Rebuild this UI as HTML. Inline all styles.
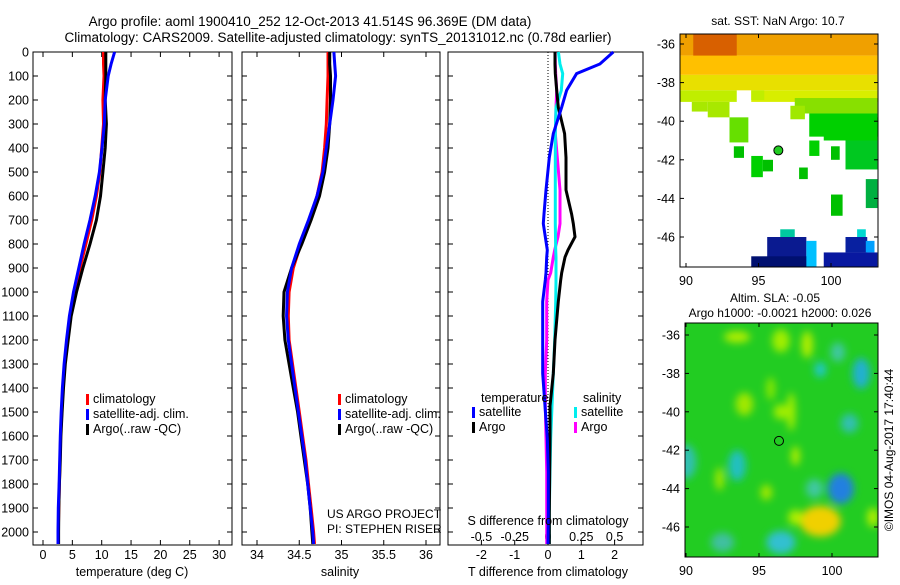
<!DOCTYPE html>
<html><head><meta charset="utf-8"><style>
body{margin:0;background:#fff;width:900px;height:580px;overflow:hidden}
svg{font-family:"Liberation Sans",sans-serif;font-size:12.5px}
</style></head><body>
<svg id="c" width="900" height="580" xmlns="http://www.w3.org/2000/svg">
<defs>
<clipPath id="m1c"><rect x="680" y="34" width="198" height="233"/></clipPath>
<clipPath id="m2c"><rect x="685" y="323" width="193" height="234"/></clipPath>
<filter id="bl" x="-50%" y="-50%" width="200%" height="200%"><feGaussianBlur stdDeviation="4"/></filter>
</defs>
<text x="310" y="26" text-anchor="middle" font-size="13.5">Argo profile: aoml 1900410_252 12-Oct-2013 41.514S 96.369E (DM data)</text>
<text x="338" y="42" text-anchor="middle" font-size="13.5">Climatology: CARS2009. Satellite-adjusted climatology: synTS_20131012.nc (0.78d earlier)</text>
<g id="g"></g>
<text x="778" y="25" text-anchor="middle" font-size="12">sat. SST: NaN Argo: 10.7</text>
<text x="775" y="302" text-anchor="middle" font-size="12">Altim. SLA: -0.05</text>
<text x="780" y="317" text-anchor="middle" font-size="12">Argo h1000: -0.0021 h2000: 0.026</text>
<text transform="translate(893,450) rotate(-90)" text-anchor="middle" font-size="12">©IMOS 04-Aug-2017 17:40:44</text>
<text x="327" y="518" font-size="12">US ARGO PROJECT</text>
<text x="327" y="533" font-size="12">PI: STEPHEN RISER</text>
</svg>
<script>
// ---- data ----
const depthTicks=[0,100,200,300,400,500,600,700,800,900,1000,1100,1200,1300,1400,1500,1600,1700,1800,1900,2000];
const tempTicks=[0,5,10,15,20,25,30];
const salTicks=[34,34.5,35,35.5,36];
const tdTicks=[-2,-1,0,1,2];
const sdTicks=[-0.5,-0.25,0,0.25,0.5];
const pDepth=[0,50,100,200,300,400,500,600,700,800,900,1000,1100,1200,1300,1400,1500,1600,1700,1800,1900,2000,2050];
const tClim=[10.3,10.3,10.4,10.2,10.3,10.0,9.7,9.1,8.3,7.3,6.3,5.3,4.6,4.1,3.7,3.4,3.2,3.0,2.9,2.8,2.7,2.6,2.6];
const tSat=[12.2,11.6,11.1,10.6,10.45,10.05,9.6,8.9,8.0,7.0,6.1,5.2,4.5,4.0,3.6,3.3,3.1,2.95,2.85,2.75,2.6,2.55,2.55];
const tArgo=[10.7,10.7,10.7,10.6,10.8,10.6,10.2,9.8,9.1,8.0,6.8,5.7,4.8,4.3,3.8,3.5,3.25,3.05,2.95,2.8,2.7,2.65,2.65];
const sClim=[34.84,34.84,34.84,34.83,34.82,34.8,34.77,34.71,34.62,34.52,34.43,34.38,34.37,34.38,34.42,34.46,34.5,34.54,34.58,34.61,34.64,34.67,34.68];
const sSat=[34.91,34.92,34.93,34.9,34.86,34.82,34.78,34.71,34.61,34.5,34.41,34.36,34.35,34.37,34.41,34.45,34.49,34.53,34.57,34.6,34.63,34.66,34.67];
const sArgo=[34.86,34.86,34.87,34.87,34.86,34.84,34.8,34.74,34.64,34.53,34.41,34.32,34.31,34.33,34.38,34.43,34.48,34.52,34.56,34.6,34.63,34.65,34.66];
const dDepth=[0,50,90,160,230,340,440,575,675,715,770,825,855,920,950,1040,1200,1340,1475,1610,1750,1920,2050];
const dTSat=[1.96,1.56,0.86,0.56,0.41,0.16,0.04,-0.06,-0.12,-0.14,-0.08,-0.02,-0.04,-0.06,-0.08,-0.16,-0.16,-0.16,-0.09,-0.02,0.01,0.01,0.0];
const dTArgo=[0.21,0.21,0.22,0.26,0.31,0.5,0.54,0.54,0.71,0.76,0.81,0.6,0.51,0.41,0.38,0.31,0.21,0.16,0.06,0.06,0.05,0.04,0.04];
const dSSat=[0.078,0.09,0.11,0.1,0.06,0.055,0.055,0.055,0.055,0.055,0.056,0.058,0.06,0.06,0.06,0.058,0.05,0.04,0.03,0.02,0.015,0.01,0.01];
const dSArgo=[0.053,0.055,0.058,0.065,0.06,0.055,0.07,0.09,0.09,0.09,0.075,0.05,0.04,0.02,0.0,-0.01,-0.01,-0.02,-0.02,-0.015,-0.01,-0.01,-0.01];
const argoLon=96.369, argoLat=-41.514;
// ---- helpers ----
const NS='http://www.w3.org/2000/svg';const G=document.getElementById('g');
function mk(t,a,p){const e=document.createElementNS(NS,t);for(const k in a)e.setAttribute(k,a[k]);(p||G).appendChild(e);return e;}
const yD=d=>52+0.24*d;
const P=[{x0:33,x1:232},{x0:242,x1:440},{x0:448,x1:643}];
const xT=v=>43+v*5.87, xS=v=>257+(v-34)*84.5, xTD=v=>548+v*33.3, xSD=v=>548+v*4*33.3;
function frame(p,name){const r=mk('rect',{x:p.x0,y:52,width:p.x1-p.x0,height:493,fill:'none',stroke:'#000','stroke-width':1});

depthTicks.forEach(d=>{mk('line',{x1:p.x0,x2:p.x0+5,y1:yD(d),y2:yD(d),stroke:'#000'});mk('line',{x1:p.x1,x2:p.x1-5,y1:yD(d),y2:yD(d),stroke:'#000'});});}
function xticks(p,ticks,f,y,top){ticks.forEach(v=>{const x=f(v);mk('line',{x1:x,x2:x,y1:545,y2:540,stroke:'#000'});if(top)mk('line',{x1:x,x2:x,y1:52,y2:57,stroke:'#000'});
const t=mk('text',{x:x,y:y,'text-anchor':'middle'});t.textContent=String(v);});}
function line(xs,ds,f,col,name,w){const pts=xs.map((v,i)=>f(v).toFixed(1)+','+yD(ds[i]).toFixed(1)).join(' ');
const e=mk('polyline',{points:pts,fill:'none',stroke:col,'stroke-width':w||3});}
// panel 1
frame(P[0],'temperature-panel');
depthTicks.forEach(d=>{const t=mk('text',{x:29,y:yD(d)+4.5,'text-anchor':'end'});t.textContent=d;});
xticks(P[0],tempTicks,xT,559,true);
line(tClim,pDepth,xT,'#f00','temp-climatology-line');line(tArgo,pDepth,xT,'#000','temp-argo-line');line(tSat,pDepth,xT,'#00f','temp-satellite-line');
let t=mk('text',{x:132,y:576,'text-anchor':'middle'});t.textContent='temperature (deg C)';
// panel 2
frame(P[1],'salinity-panel');
xticks(P[1],salTicks,xS,559,true);
line(sClim,pDepth,xS,'#f00','sal-climatology-line');line(sArgo,pDepth,xS,'#000','sal-argo-line');line(sSat,pDepth,xS,'#00f','sal-satellite-line');
t=mk('text',{x:340,y:576,'text-anchor':'middle'});t.textContent='salinity';
// panel 3
frame(P[2],'difference-panel');
mk('line',{x1:548,x2:548,y1:52,y2:545,stroke:'#000','stroke-dasharray':'1,2'});
xticks(P[2],tdTicks,xTD,559,false);
sdTicks.forEach(v=>{const x=xSD(v);const tt=mk('text',{x:x,y:541,'text-anchor':'middle'});tt.textContent=String(v);
});
line(dSArgo,dDepth,xSD,'#f0f','s-diff-argo-line');line(dSSat,dDepth,xSD,'#0ee','s-diff-satellite-line');
line(dTArgo,dDepth,xTD,'#000','t-diff-argo-line');line(dTSat,dDepth,xTD,'#00f','t-diff-satellite-line');
t=mk('text',{x:548,y:525,'text-anchor':'middle'});t.textContent='S difference from climatology';
t=mk('text',{x:548,y:576,'text-anchor':'middle'});t.textContent='T difference from climatology';
// legends
function leg(x,y,col,label){mk('rect',{x:x,y:y-9,width:3,height:11,fill:col});const tt=mk('text',{x:x+7,y:y});tt.textContent=label;}
leg(86,403,'#f00','climatology');leg(86,418,'#00f','satellite-adj. clim.');leg(86,433,'#000','Argo(..raw -QC)');
leg(338,403,'#f00','climatology');leg(338,418,'#00f','satellite-adj. clim.');leg(338,433,'#000','Argo(..raw -QC)');
t=mk('text',{x:481,y:402});t.textContent='temperature';
t=mk('text',{x:583,y:402});t.textContent='salinity';
leg(472,416,'#00f','satellite');leg(472,431,'#000','Argo');leg(574,416,'#0ee','satellite');leg(574,431,'#f0f','Argo');
// ---- maps ----
const lonTicks=[90,95,100], latTicks=[-36,-38,-40,-42,-44,-46];
const m1={x0:680,x1:878,y0:34,y1:267,lx:lo=>686+(lo-90)*14.5,ly:la=>44+(-36-la)*19.3};
const m2={x0:685,x1:878,y0:323,y1:557,lx:lo=>686+(lo-90)*14.6,ly:la=>335+(-36-la)*19.2};
// SST cells [lon0,lat0,lon1,lat1,color]
const sstCells=[[89.6,-35.5,103.2,-36.6,'#f0a000'],[90.5,-35.5,93.5,-36.8,'#d86000'],[89.6,-36.6,103.2,-37.6,'#ffc000'],[89.6,-37.6,103.2,-38.4,'#e8e000'],
[89.6,-38.4,93.5,-39,'#c0ee00'],[94.5,-38.4,103.2,-39,'#d8ee00'],[90.4,-39,91.5,-39.5,'#a8e800'],[91.5,-39,93,-39.8,'#a8e800'],[97.5,-38.8,103.2,-39.6,'#88e000'],
[98.5,-39.6,103.2,-40.8,'#00d000'],[99.5,-39.8,103.2,-41,'#00d000'],[93,-39.8,94.3,-41.1,'#66e000'],[101,-41,103.2,-42.5,'#00c820'],[98.5,-41,99.2,-41.8,'#00d000'],
[100,-41.3,100.6,-42,'#00c000'],[97.2,-39.2,98.2,-39.9,'#a0e800'],[94.5,-38.4,95.4,-38.9,'#c0ee00'],
[93.3,-41.3,94,-41.9,'#00c000'],[94.5,-41.8,95.3,-42.9,'#00d000'],[95.3,-42,96,-42.6,'#00c000'],[97.8,-42.4,98.4,-43,'#00c000'],
[102.4,-43,103.2,-44.5,'#00b040'],[100,-43.8,100.8,-44.9,'#00c000'],[96.5,-45.6,97.5,-46,'#00c8a0'],[101.8,-45.6,102.4,-46.2,'#00d8d0'],
[95.6,-46,98.3,-47.6,'#0a1a90'],[94.5,-47,98.5,-47.6,'#001070'],[98.3,-46.2,99,-47.6,'#00c0ff'],[99.5,-46.8,103.2,-47.6,'#0818a0'],[101,-46,102.5,-46.8,'#0820a0'],[102.4,-46.2,103,-46.8,'#00a0ff']];
sstCells.forEach(c=>{const a=m1.lx(c[0]),b=m1.lx(c[2]),y0=m1.ly(c[1]),y1=m1.ly(c[3]);
const r=mk('rect',{x:Math.min(a,b),y:Math.min(y0,y1),width:Math.abs(b-a),height:Math.abs(y1-y0),fill:c[4],'clip-path':'url(#m1c)'});
});
// SLA blobs [lon,lat,rlon,rlat,color]
const slaBlobs=[[93.5,-36.1,0.9,0.3,'#b0ee00'],[96.5,-36.3,0.6,0.6,'#a0ee00'],[98.3,-36.5,0.4,0.7,'#b0ee00'],[95.8,-38.8,0.3,0.6,'#88e800'],
[94,-39.6,0.6,0.6,'#a0e800'],[96.5,-40,0.5,0.4,'#a0ee00'],[97.2,-40,0.3,1.0,'#a0ee00'],[99.2,-37.8,0.4,0.4,'#22c8c8'],[102,-38,0.6,0.8,'#20b0d0'],
[101.2,-40.6,0.6,0.5,'#30c0b0'],[90,-42.6,0.7,0.9,'#30c0b0'],[93.5,-42.8,0.6,0.8,'#20c0c0'],[97.5,-42.3,0.3,0.5,'#b0ee00'],[98.8,-44,0.6,0.5,'#40c8a0'],
[100.6,-44,0.9,0.8,'#2080e0'],[99.2,-45.7,1.4,0.8,'#f0d000'],[97.5,-45.5,0.5,0.4,'#b0ee00'],[96.5,-46.8,1.0,0.6,'#30c0d0'],[92.5,-46.8,0.8,0.5,'#40c0a0'],
[92.3,-43.5,0.3,0.6,'#a0e800'],[95.5,-44.2,0.4,0.4,'#a0e800'],[102.8,-45.5,0.4,0.5,'#b0ee00'],[100.4,-36.9,0.5,0.5,'#40c8a0']];
const sbg=mk('rect',{x:m2.x0,y:m2.y0,width:m2.x1-m2.x0,height:m2.y1-m2.y0,fill:'#22cc22'});

const bg2=mk('g',{'clip-path':'url(#m2c)'});const bgg=mk('g',{filter:'url(#bl)'},bg2);
slaBlobs.forEach(b=>{const e=mk('ellipse',{cx:m2.lx(b[0]),cy:m2.ly(b[1]),rx:b[2]*14.6,ry:b[3]*19.2,fill:b[4]},bgg);
});
function mapAxes(m,name){const r=mk('rect',{x:m.x0,y:m.y0,width:m.x1-m.x0,height:m.y1-m.y0,fill:'none',stroke:'#000'});
lonTicks.forEach(v=>{const x=m.lx(v);mk('line',{x1:x,x2:x,y1:m.y1,y2:m.y1-4,stroke:'#000'});mk('line',{x1:x,x2:x,y1:m.y0,y2:m.y0+4,stroke:'#000'});
const tt=mk('text',{x:x,y:m.y1+18,'text-anchor':'middle'});tt.textContent=v;});
latTicks.forEach(v=>{const y=m.ly(v);mk('line',{x1:m.x1,x2:m.x1-4,y1:y,y2:y,stroke:'#000'});mk('line',{x1:m.x0,x2:m.x0+4,y1:y,y2:y,stroke:'#000'});
const tt=mk('text',{x:m.x0-5,y:y+4.5,'text-anchor':'end'});tt.textContent=v;});
const c=mk('circle',{cx:m.lx(argoLon),cy:m.ly(argoLat),r:4.5,fill:name==='sst-map'?'#22cc22':'none',stroke:'#000'});}
mapAxes(m1,'sst-map');mapAxes(m2,'sla-map');
</script>
</body></html>
